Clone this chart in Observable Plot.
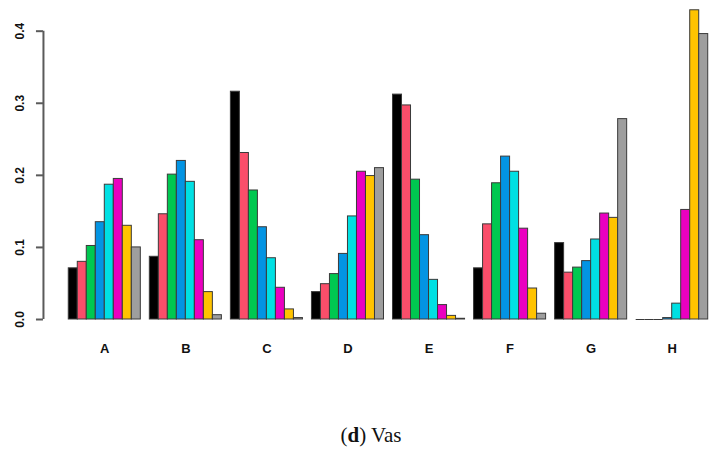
<!DOCTYPE html>
<html>
<head>
<meta charset="utf-8">
<script src="https://cdn.jsdelivr.net/npm/d3@7"></script>
<script src="https://cdn.jsdelivr.net/npm/@observablehq/plot@0.6"></script>
<style>
  html, body { margin: 0; padding: 0; background: #fff; }
  #chart { width: 717px; height: 410px; }
  #caption { width: 717px; box-sizing: border-box; padding-left: 25px; text-align: center;
    font-family: "Liberation Serif", "DejaVu Serif", serif; font-size: 21px; line-height: 50px; color: #111; }
</style>
</head>
<body>
<div id="chart"></div>
<div id="caption">(<b>d</b>) Vas</div>
<script>
const groups = ["A", "B", "C", "D", "E", "F", "G", "H"];
const seriesColors = ["#000000", "#FA4E6A", "#00C850", "#0394E3", "#00E0E3", "#EA00C0", "#FFC300", "#9E9E9E"];
const yTicks = [0.0, 0.1, 0.2, 0.3, 0.4];

const valuesA = [0.071, 0.080, 0.102, 0.135, 0.187, 0.195, 0.130, 0.100];
const valuesB = [0.087, 0.146, 0.201, 0.220, 0.191, 0.110, 0.038, 0.006];
const valuesC = [0.316, 0.231, 0.179, 0.128, 0.085, 0.044, 0.014, 0.002];
const valuesD = [0.038, 0.049, 0.063, 0.091, 0.143, 0.205, 0.199, 0.210];
const valuesE = [0.312, 0.297, 0.194, 0.117, 0.055, 0.020, 0.005, 0.001];
const valuesF = [0.071, 0.132, 0.189, 0.226, 0.205, 0.126, 0.043, 0.008];
const valuesG = [0.106, 0.065, 0.072, 0.081, 0.111, 0.147, 0.141, 0.278];
const valuesH = [0.000, 0.000, 0.000, 0.002, 0.022, 0.152, 0.429, 0.396];

const groupValues = [valuesA, valuesB, valuesC, valuesD, valuesE, valuesF, valuesG, valuesH];
const nSeries = seriesColors.length;
const step = nSeries + 1; // one bar-width gap between groups (R barplot beside=TRUE)

const data = [];
groupValues.forEach((vals, g) => {
  vals.forEach((v, s) => {
    data.push({group: groups[g], series: s, value: v, left: g * step + s + 1, color: seriesColors[s]});
  });
});
const zeroBars = data.filter(d => d.value === 0);
const groupCenters = groups.map((name, g) => ({name, center: g * step + 1 + nSeries / 2}));

// R-style user extent: bars span [1, 72], padded 4% on each side
const xAxisPos = -1.81;
const xMin = -6.58, xMax = 73.03;
const axisColor = "#5a5a5a";

const chart = Plot.plot({
  width: 717,
  height: 410,
  marginLeft: 0,
  marginRight: 0,
  marginTop: 2,
  marginBottom: 91,
  style: {fontFamily: "'Liberation Sans', Arial, sans-serif", background: "#fff"},
  x: {type: "linear", domain: [xMin, xMax]},
  y: {domain: [0, 0.4398]},
  marks: [
    Plot.rect(data, {
      x1: "left", x2: d => d.left + 1, y1: 0, y2: "value",
      fill: "color", stroke: "#3a3a3a", strokeWidth: 1
    }),
    Plot.ruleY(zeroBars, {x1: "left", x2: d => d.left + 1, y: 0, stroke: "#3a3a3a", strokeWidth: 1}),
    Plot.ruleX([xAxisPos], {y1: d3.min(yTicks), y2: d3.max(yTicks), stroke: axisColor, strokeWidth: 2}),
    Plot.axisY(yTicks, {
      x: xAxisPos, anchor: "left", tickSize: 7, tickFormat: ".1f", tickRotate: -90, tickPadding: 12,
      stroke: axisColor, strokeWidth: 2, fill: "#111", fontSize: 12, fontWeight: "bold", label: null
    }),
    Plot.axisX(groupCenters.map(d => d.center), {
      tickSize: 0, tickPadding: 24, tickFormat: (d, i) => groups[i],
      fill: "#111", fontSize: 13, fontWeight: "bold", label: null
    })
  ]
});
document.getElementById("chart").appendChild(chart);
</script>
</body>
</html>
